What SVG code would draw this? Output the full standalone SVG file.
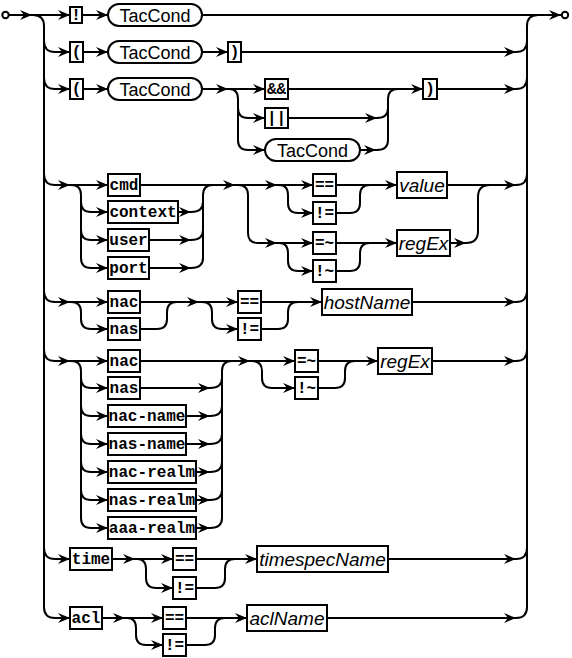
<svg xmlns="http://www.w3.org/2000/svg" width="572" height="658" viewBox="0 0 572 658">
<style>
.t rect{fill:#fff;stroke:#000;stroke-width:2}
.t text{font-family:"Liberation Mono","Courier New",monospace;font-weight:bold;font-size:16px;text-anchor:middle;fill:#000}
.n rect{fill:#fff;stroke:#000;stroke-width:2}
.n text{font-family:"Liberation Sans",Arial,sans-serif;font-style:italic;font-size:19px;text-anchor:middle;fill:#000}
.p rect{fill:#fff;stroke:#000;stroke-width:2}
.p text{font-family:"Liberation Sans",Arial,sans-serif;font-size:18px;text-anchor:middle;fill:#000}
#conn path{fill:none;stroke:#000;stroke-width:2}
#conn circle{fill:#fff;stroke:#000;stroke-width:2}
.ah{fill:#000;stroke:none}
</style>
<defs>
<path id="a" class="ah" d="M0,0 L-12,-5 L-8,0 L-12,5 Z"/>
</defs>
<g id="conn">
<path d="M9,15 H70 M82,15 H108 M202,15 H561"/>
<path d="M33,15 Q44,15 44,26 V607 Q44,618 55,618 H70"/>
<path d="M44,41 Q44,52 55,52 H70 M44,78 Q44,89 55,89 H70 M44,174 Q44,185 55,185 H108 M44,291 Q44,302 55,302 H108 M44,350 Q44,361 55,361 H108 M44,548 Q44,559 55,559 H70"/>
<path d="M527,26 Q527,15 538,15 M527,26 V607 Q527,618 516,618"/>
<path d="M83,52 H108 M202,52 H228 M241,52 H516 Q527,52 527,41"/>
<path d="M83,89 H108 M202,89 H265 M288,89 H423 M437,89 H516 Q527,89 527,78"/>
<path d="M229,89 Q238,89 238,99 V140 Q238,150 248,150 H265 M238,108 Q238,118 248,118 H265"/>
<path d="M288,118 H377 Q388,118 388,108 M360,150 H377 Q388,150 388,140 V99 Q388,89 398,89"/>
<path d="M140,185 H313 M178,212 H191 Q203,212 203,202 M149,240 H191 Q203,240 203,230 M149,268 H191 Q203,268 203,258 V195 Q203,185 213,185"/>
<path d="M71,185 Q81,185 81,195 V258 Q81,268 91,268 H108 M81,202 Q81,212 91,212 H108 M81,230 Q81,240 91,240 H108"/>
<path d="M238,185 Q248,185 248,195 V233 Q248,243 258,243 H313"/>
<path d="M279,185 Q288,185 288,195 V203 Q288,213 298,213 H313 M279,243 Q288,243 288,253 V261 Q288,271 298,271 H313"/>
<path d="M336,185 H397 M336,213 H350 Q360,213 360,203 V195 Q360,185 370,185 M336,243 H397 M336,271 H350 Q360,271 360,261 V253 Q360,243 370,243"/>
<path d="M447,185 H516 Q527,185 527,174 M450,243 H466 Q478,243 478,231 V197 Q478,185 490,185"/>
<path d="M71,302 Q81,302 81,312 V319 Q81,329 91,329 H108 M140,302 H238 M140,329 H157 Q167,329 167,319 V312 Q167,302 177,302"/>
<path d="M202,302 Q212,302 212,312 V319 Q212,329 222,329 H238 M261,302 H322 M261,329 H278 Q288,329 288,319 V312 Q288,302 298,302 M412,302 H516 Q527,302 527,291"/>
<path d="M71,361 Q81,361 81,371 V518 Q81,528 91,528 H108 M81,378 Q81,388 91,388 H108 M81,406 Q81,416 91,416 H108 M81,434 Q81,444 91,444 H108 M81,462 Q81,472 91,472 H108 M81,490 Q81,500 91,500 H108"/>
<path d="M140,361 H295 M140,388 H210 Q222,388 222,378 M186,416 H210 Q222,416 222,406 M186,444 H210 Q222,444 222,434 M196,472 H210 Q222,472 222,462 M196,500 H210 Q222,500 222,490 M196,528 H210 Q222,528 222,518 V371 Q222,361 232,361"/>
<path d="M252,361 Q262,361 262,371 V378 Q262,388 272,388 H295 M318,361 H378 M318,388 H335 Q345,388 345,378 V371 Q345,361 355,361 M432,361 H516 Q527,361 527,350"/>
<path d="M112,559 H173 M137,559 Q146,559 146,569 V578 Q146,588 156,588 H173 M196,559 H257 M196,588 H215 Q225,588 225,578 V569 Q225,559 235,559 M388,559 H516 Q527,559 527,548"/>
<path d="M102,618 H163 M127,618 Q136,618 136,628 V635 Q136,645 146,645 H163 M186,618 H247 M186,645 H205 Q215,645 215,635 V628 Q215,618 225,618 M327,618 H516"/>
<circle cx="5.5" cy="15" r="3.2"/>
<circle cx="565" cy="15" r="3.2"/>
<use href="#a" x="32" y="15"/><use href="#a" x="70" y="15"/><use href="#a" x="108" y="15"/><use href="#a" x="561" y="15"/>
<use href="#a" x="70" y="52"/><use href="#a" x="108" y="52"/><use href="#a" x="228" y="52"/><use href="#a" x="516" y="52"/>
<use href="#a" x="70" y="89"/><use href="#a" x="108" y="89"/><use href="#a" x="228" y="89"/><use href="#a" x="265" y="89"/><use href="#a" x="423" y="89"/><use href="#a" x="516" y="89"/>
<use href="#a" x="265" y="118"/><use href="#a" x="265" y="150"/><use href="#a" x="377" y="118"/><use href="#a" x="376" y="150"/>
<use href="#a" x="70" y="185"/><use href="#a" x="108" y="185"/><use href="#a" x="108" y="212"/><use href="#a" x="108" y="240"/><use href="#a" x="108" y="268"/>
<use href="#a" x="191" y="212"/><use href="#a" x="191" y="240"/><use href="#a" x="191" y="268"/>
<use href="#a" x="235" y="185"/><use href="#a" x="277" y="185"/><use href="#a" x="313" y="185"/><use href="#a" x="313" y="213"/>
<use href="#a" x="277" y="243"/><use href="#a" x="313" y="243"/><use href="#a" x="313" y="271"/>
<use href="#a" x="397" y="185"/><use href="#a" x="397" y="243"/><use href="#a" x="466" y="243"/><use href="#a" x="516" y="185"/>
<use href="#a" x="70" y="302"/><use href="#a" x="108" y="302"/><use href="#a" x="108" y="329"/><use href="#a" x="199" y="302"/><use href="#a" x="238" y="302"/><use href="#a" x="238" y="329"/><use href="#a" x="322" y="302"/><use href="#a" x="516" y="302"/>
<use href="#a" x="70" y="361"/><use href="#a" x="108" y="361"/><use href="#a" x="108" y="388"/><use href="#a" x="108" y="416"/><use href="#a" x="108" y="444"/><use href="#a" x="108" y="472"/><use href="#a" x="108" y="500"/><use href="#a" x="108" y="528"/>
<use href="#a" x="210" y="388"/><use href="#a" x="210" y="416"/><use href="#a" x="210" y="444"/><use href="#a" x="210" y="472"/><use href="#a" x="210" y="500"/><use href="#a" x="210" y="528"/>
<use href="#a" x="250" y="361"/><use href="#a" x="295" y="361"/><use href="#a" x="295" y="388"/><use href="#a" x="378" y="361"/><use href="#a" x="516" y="361"/>
<use href="#a" x="70" y="559"/><use href="#a" x="135" y="559"/><use href="#a" x="173" y="559"/><use href="#a" x="173" y="588"/><use href="#a" x="257" y="559"/><use href="#a" x="516" y="559"/>
<use href="#a" x="70" y="618"/><use href="#a" x="125" y="618"/><use href="#a" x="163" y="618"/><use href="#a" x="163" y="645"/><use href="#a" x="247" y="618"/><use href="#a" x="516" y="618"/>
</g>
<g id="n-bang1" class="t"><rect x="70" y="7" width="12" height="16"/><text x="76" y="20">!</text></g>
<g id="n-tac1" class="p"><rect x="108" y="4" width="94" height="22" rx="11"/><text x="155" y="21.5">TacCond</text></g>
<g id="n-lp2" class="t"><rect x="70" y="42" width="13" height="20"/><text x="76.5" y="57">(</text></g>
<g id="n-tac2" class="p"><rect x="108" y="41" width="94" height="22" rx="11"/><text x="155" y="58.5">TacCond</text></g>
<g id="n-rp2" class="t"><rect x="228" y="42" width="13" height="20"/><text x="234.5" y="57">)</text></g>
<g id="n-lp3" class="t"><rect x="70" y="79" width="13" height="20"/><text x="76.5" y="94">(</text></g>
<g id="n-tac3" class="p"><rect x="108" y="78" width="94" height="22" rx="11"/><text x="155" y="95.5">TacCond</text></g>
<g id="n-and" class="t"><rect x="265" y="79" width="23" height="20"/><text x="276.5" y="94">&amp;&amp;</text></g>
<g id="n-or" class="t"><rect x="265" y="108" width="23" height="20"/><text x="276.5" y="123">||</text></g>
<g id="n-tac4" class="p"><rect x="265" y="139" width="95" height="22" rx="11"/><text x="312.5" y="156.5">TacCond</text></g>
<g id="n-rp3" class="t"><rect x="423" y="79" width="14" height="20"/><text x="430" y="94">)</text></g>
<g id="n-cmd" class="t"><rect x="108" y="174" width="32" height="22"/><text x="124" y="190">cmd</text></g>
<g id="n-context" class="t"><rect x="108" y="201" width="70" height="22"/><text x="143" y="217">context</text></g>
<g id="n-user" class="t"><rect x="108" y="229" width="41" height="22"/><text x="128.5" y="245">user</text></g>
<g id="n-port" class="t"><rect x="108" y="257" width="41" height="22"/><text x="128.5" y="273">port</text></g>
<g id="n-eq1" class="t"><rect x="313" y="174" width="23" height="22"/><text x="324.5" y="190">==</text></g>
<g id="n-ne1" class="t"><rect x="313" y="202" width="23" height="22"/><text x="324.5" y="218">!=</text></g>
<g id="n-rm1" class="t"><rect x="313" y="232" width="23" height="22"/><text x="324.5" y="248">=~</text></g>
<g id="n-nm1" class="t"><rect x="313" y="260" width="23" height="22"/><text x="324.5" y="276">!~</text></g>
<g id="n-value" class="n"><rect x="397" y="172" width="50" height="26"/><text x="422" y="191.5">value</text></g>
<g id="n-regex1" class="n"><rect x="397" y="230" width="53" height="26"/><text x="423.5" y="249.5">regEx</text></g>
<g id="n-nac1" class="t"><rect x="108" y="291" width="32" height="22"/><text x="124" y="307">nac</text></g>
<g id="n-nas1" class="t"><rect x="108" y="318" width="32" height="22"/><text x="124" y="334">nas</text></g>
<g id="n-eq2" class="t"><rect x="238" y="291" width="23" height="22"/><text x="249.5" y="307">==</text></g>
<g id="n-ne2" class="t"><rect x="238" y="318" width="23" height="22"/><text x="249.5" y="334">!=</text></g>
<g id="n-host" class="n"><rect x="322" y="289" width="90" height="26"/><text x="367" y="308.5">hostName</text></g>
<g id="n-nac2" class="t"><rect x="108" y="350" width="32" height="22"/><text x="124" y="366">nac</text></g>
<g id="n-nas2" class="t"><rect x="108" y="377" width="32" height="22"/><text x="124" y="393">nas</text></g>
<g id="n-nacname" class="t"><rect x="108" y="405" width="78" height="22"/><text x="147" y="421">nac-name</text></g>
<g id="n-nasname" class="t"><rect x="108" y="433" width="78" height="22"/><text x="147" y="449">nas-name</text></g>
<g id="n-nacrealm" class="t"><rect x="108" y="461" width="88" height="22"/><text x="152" y="477">nac-realm</text></g>
<g id="n-nasrealm" class="t"><rect x="108" y="489" width="88" height="22"/><text x="152" y="505">nas-realm</text></g>
<g id="n-aaarealm" class="t"><rect x="108" y="517" width="88" height="22"/><text x="152" y="533">aaa-realm</text></g>
<g id="n-rm2" class="t"><rect x="295" y="350" width="23" height="22"/><text x="306.5" y="366">=~</text></g>
<g id="n-nm2" class="t"><rect x="295" y="377" width="23" height="22"/><text x="306.5" y="393">!~</text></g>
<g id="n-regex2" class="n"><rect x="378" y="348" width="54" height="26"/><text x="405" y="367.5">regEx</text></g>
<g id="n-time" class="t"><rect x="70" y="548" width="42" height="22"/><text x="91" y="564">time</text></g>
<g id="n-eq3" class="t"><rect x="173" y="548" width="23" height="22"/><text x="184.5" y="564">==</text></g>
<g id="n-ne3" class="t"><rect x="173" y="577" width="23" height="22"/><text x="184.5" y="593">!=</text></g>
<g id="n-timespec" class="n"><rect x="257" y="546" width="131" height="26"/><text x="322.5" y="565.5">timespecName</text></g>
<g id="n-acl" class="t"><rect x="70" y="607" width="32" height="22"/><text x="86" y="623">acl</text></g>
<g id="n-eq4" class="t"><rect x="163" y="607" width="23" height="22"/><text x="174.5" y="623">==</text></g>
<g id="n-ne4" class="t"><rect x="163" y="634" width="23" height="22"/><text x="174.5" y="650">!=</text></g>
<g id="n-aclname" class="n"><rect x="247" y="605" width="80" height="26"/><text x="287" y="624.5">aclName</text></g>
</svg>
